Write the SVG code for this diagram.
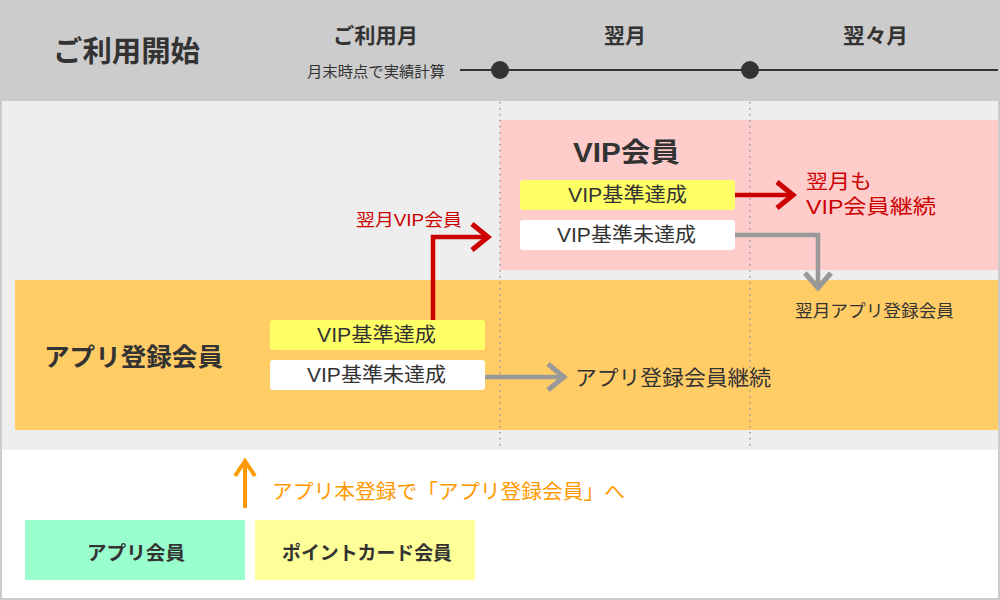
<svg xmlns="http://www.w3.org/2000/svg" width="1000" height="600" viewBox="0 0 1000 600">
<style>
text{font-family:"Liberation Sans","Noto Sans CJK JP",sans-serif;dominant-baseline:central;fill:#333;lengthAdjust:spacingAndGlyphs}
.j{font-family:"Noto Sans CJK JP","Noto Sans",sans-serif}
.b{font-weight:bold}
.red{fill:#cc0000}
.org{fill:#ff9900}
.dot{stroke:#999;stroke-width:1.5;stroke-dasharray:1.5 4.5}
</style>
<rect x="0" y="0" width="1000" height="600" fill="#cccccc"/>
<rect x="2" y="100" width="996" height="350" fill="#eeeeee"/>
<rect x="2" y="450" width="996" height="148" fill="#ffffff"/>
<g id="header">
<text class="b j" x="53" y="49" font-size="29" textLength="147" lengthAdjust="spacingAndGlyphs">ご利用開始</text>
<text class="b j" x="333" y="34" font-size="21" textLength="85" lengthAdjust="spacingAndGlyphs">ご利用月</text>
<text class="j" x="307" y="70" font-size="15" textLength="138" lengthAdjust="spacingAndGlyphs">月末時点で実績計算</text>
<text class="b j" x="604" y="34" font-size="21" textLength="42" lengthAdjust="spacingAndGlyphs">翌月</text>
<text class="b j" x="843" y="34" font-size="21" textLength="65" lengthAdjust="spacingAndGlyphs">翌々月</text>
<line x1="460" y1="70" x2="998" y2="70" stroke="#333" stroke-width="2"/>
<circle cx="500" cy="70" r="9" fill="#333"/>
<circle cx="750" cy="70" r="9" fill="#333"/>
</g>
<g id="vip">
<rect x="500" y="120" width="498" height="150" fill="#ffcccc"/>
<text class="b" x="573" y="153" font-size="27" textLength="107" lengthAdjust="spacingAndGlyphs">VIP会員</text>
</g>
<g id="app-reg">
<rect x="15" y="280" width="983" height="150" fill="#ffcc66"/>
<text class="b j" x="44" y="355" font-size="25" textLength="179" lengthAdjust="spacingAndGlyphs">アプリ登録会員</text>
</g>
<g id="guides">
<line class="dot" x1="500" y1="102" x2="500" y2="450"/>
<line class="dot" x1="750" y1="102" x2="750" y2="450"/>
</g>
<g id="vip-ok">
<rect x="520" y="180" width="215" height="30" rx="3" fill="#ffff66"/>
<text x="568" y="195" font-size="20" textLength="119" lengthAdjust="spacingAndGlyphs">VIP基準達成</text>
</g>
<g id="vip-ng">
<rect x="520" y="220" width="215" height="30" rx="3" fill="#ffffff"/>
<text x="557" y="235" font-size="20" textLength="139" lengthAdjust="spacingAndGlyphs">VIP基準未達成</text>
</g>
<g id="app-ok">
<rect x="270" y="320" width="215" height="30" rx="3" fill="#ffff66"/>
<text x="317" y="335" font-size="20" textLength="119" lengthAdjust="spacingAndGlyphs">VIP基準達成</text>
</g>
<g id="app-ng">
<rect x="270" y="360" width="215" height="30" rx="3" fill="#ffffff"/>
<text x="307" y="375" font-size="20" textLength="139" lengthAdjust="spacingAndGlyphs">VIP基準未達成</text>
</g>
<g id="connectors" fill="none" stroke-width="4.5">
<path d="M433 320 V237 H487" stroke="#cc0000"/>
<path d="M472 224 L488 237 L472 250" stroke="#cc0000" stroke-width="5"/>
<path d="M735 195 H792" stroke="#cc0000"/>
<path d="M777 182 L793 195 L777 208" stroke="#cc0000" stroke-width="5"/>
<path d="M735 235 H818 V288" stroke="#999999"/>
<path d="M805 273 L818 288 L831 273" stroke="#999999" stroke-width="5"/>
<path d="M485 377 H562" stroke="#999999"/>
<path d="M548 364 L564 377 L548 390" stroke="#999999" stroke-width="5"/>
<path d="M245 508 V464" stroke="#ff9900" stroke-width="4"/>
<path d="M235 476 L245 461 L255 476" stroke="#ff9900" stroke-width="4"/>
</g>
<g id="labels">
<text class="red" x="356" y="220" font-size="17" textLength="106" lengthAdjust="spacingAndGlyphs">翌月VIP会員</text>
<text class="red" x="806" y="182" font-size="20" textLength="66" lengthAdjust="spacingAndGlyphs">翌月も</text>
<text class="red" x="806" y="207" font-size="20" textLength="130" lengthAdjust="spacingAndGlyphs">VIP会員継続</text>
<text class="j" x="795" y="309" font-size="17" textLength="159" lengthAdjust="spacingAndGlyphs">翌月アプリ登録会員</text>
<text class="j" x="575" y="376" font-size="21" textLength="196" lengthAdjust="spacingAndGlyphs">アプリ登録会員継続</text>
<text class="org j" x="272" y="490" font-size="20.5" textLength="353" lengthAdjust="spacingAndGlyphs">アプリ本登録で「アプリ登録会員」へ</text>
</g>
<g id="app-member">
<rect x="25" y="520" width="220" height="60" fill="#99ffcc"/>
<text class="b j" x="87" y="551" font-size="19" textLength="98" lengthAdjust="spacingAndGlyphs">アプリ会員</text>
</g>
<g id="point-member">
<rect x="255" y="520" width="220" height="60" fill="#ffff99"/>
<text class="b j" x="282" y="551" font-size="19" textLength="170" lengthAdjust="spacingAndGlyphs">ポイントカード会員</text>
</g>
<rect x="1" y="100" width="998" height="499" fill="none" stroke="#cccccc" stroke-width="2"/>
</svg>
